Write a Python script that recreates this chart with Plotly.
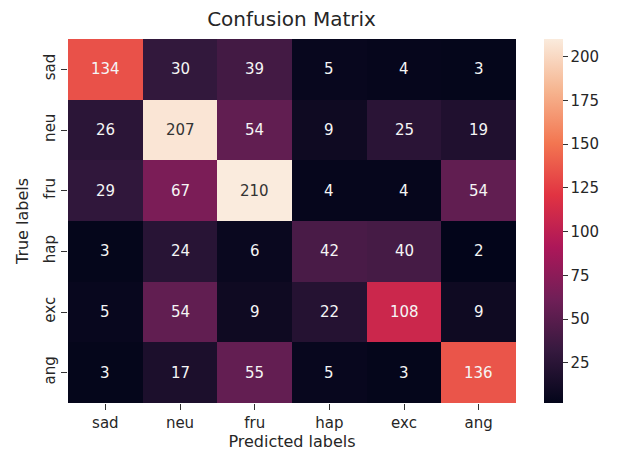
import plotly.graph_objects as go
import numpy as np

# Emotion classes (rows: true, columns: predicted)
labels = ["sad", "neu", "fru", "hap", "exc", "ang"]

row_sad = [134, 30, 39, 5, 4, 3]
row_neu = [26, 207, 54, 9, 25, 19]
row_fru = [29, 67, 210, 4, 4, 54]
row_hap = [3, 24, 6, 42, 40, 2]
row_exc = [5, 54, 9, 22, 108, 9]
row_ang = [3, 17, 55, 5, 3, 136]

cbar_ticks = [25, 50, 75, 100, 125, 150, 175, 200]

matrix = np.array([row_sad, row_neu, row_fru, row_hap, row_exc, row_ang])

# "rocket"-style sequential colour scale
rocket_stops = [
    (0.0, "#03051a"),
    (1 / 7, "#35193e"),
    (2 / 7, "#701f57"),
    (3 / 7, "#ad1759"),
    (4 / 7, "#e13342"),
    (5 / 7, "#f37651"),
    (6 / 7, "#f6b48f"),
    (1.0, "#faebdd"),
]
colorscale = [[p, c] for p, c in rocket_stops]

zmin, zmax = matrix.min(), matrix.max()


def hex_rgb(h):
    h = h.lstrip("#")
    return np.array([int(h[i:i + 2], 16) for i in (0, 2, 4)]) / 255.0


def color_at(v):
    t = (v - zmin) / (zmax - zmin)
    for (p0, c0), (p1, c1) in zip(rocket_stops[:-1], rocket_stops[1:]):
        if p0 <= t <= p1:
            f = (t - p0) / (p1 - p0)
            return hex_rgb(c0) * (1 - f) + hex_rgb(c1) * f
    return hex_rgb(rocket_stops[-1][1])


def luminance(rgb):
    lin = np.where(rgb <= 0.03928, rgb / 12.92, ((rgb + 0.055) / 1.055) ** 2.4)
    return 0.2126 * lin[0] + 0.7152 * lin[1] + 0.0722 * lin[2]


FONT = "DejaVu Sans"
INK = "#262626"

fig = go.Figure(
    go.Heatmap(
        z=matrix,
        x=labels,
        y=labels,
        zmin=zmin,
        zmax=zmax,
        colorscale=colorscale,
        xgap=0,
        ygap=0,
        colorbar=dict(
            x=1.0625,
            xanchor="left",
            xpad=0,
            y=0.5,
            yanchor="middle",
            ypad=0,
            len=1,
            lenmode="fraction",
            thickness=19,
            outlinewidth=0,
            tickvals=cbar_ticks,
            ticks="outside",
            ticklen=5,
            tickcolor="#333333",
            tickfont=dict(family=FONT, size=15, color=INK),
        ),
        hoverinfo="skip",
    )
)

annotations = []
for i, tl in enumerate(labels):
    for j, pl in enumerate(labels):
        v = matrix[i, j]
        txt_color = "#333333" if luminance(color_at(v)) > 0.408 else "#f5f5f5"
        annotations.append(
            dict(
                x=pl,
                y=tl,
                text=str(v),
                showarrow=False,
                font=dict(family=FONT, size=15, color=txt_color),
            )
        )

fig.update_layout(
    width=617,
    height=458,
    margin=dict(l=68, r=101, t=39, b=55),
    paper_bgcolor="white",
    plot_bgcolor="white",
    title=dict(
        text="Confusion Matrix",
        x=0.4725,
        xanchor="center",
        y=1 - 19 / 458,
        yanchor="middle",
        font=dict(family=FONT, size=20, color=INK),
    ),
    annotations=annotations,
    xaxis=dict(
        title=dict(text="Predicted labels", font=dict(family=FONT, size=16, color=INK), standoff=3),
        ticks="outside",
        ticklen=6,
        tickcolor="#333333",
        tickfont=dict(family=FONT, size=15, color=INK),
        showgrid=False,
        zeroline=False,
        showline=False,
    ),
    yaxis=dict(
        title=dict(text="True labels", font=dict(family=FONT, size=16, color=INK), standoff=8),
        autorange="reversed",
        ticks="outside",
        ticklen=6,
        tickcolor="#333333",
        tickangle=-90,
        tickfont=dict(family=FONT, size=15, color=INK),
        showgrid=False,
        zeroline=False,
        showline=False,
    ),
)

fig.write_html("out.html")
